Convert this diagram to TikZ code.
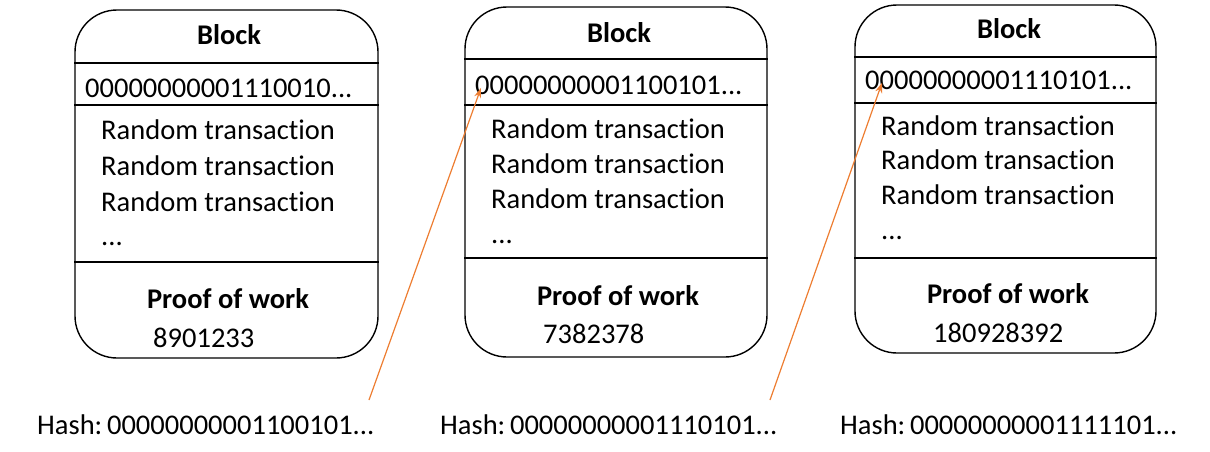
\documentclass[tikz,border=0pt]{standalone}
\usepackage{fontspec}
\setmainfont{Carlito}[RawFeature={-liga;-dlig}]
\usetikzlibrary{arrows.meta}

\definecolor{linkorange}{HTML}{ED7D31}

\tikzset{
  blk/.style={draw, line width=1.4pt, rounded corners=42pt, inner sep=0pt},
  sep/.style={line width=1.4pt},
  txt/.style={anchor=base west, inner sep=0pt, font=\fontsize{28.5}{34}\selectfont},
  hd/.style={anchor=base, inner sep=0pt, font=\fontsize{28.5}{34}\selectfont\bfseries},
  link/.style={draw=linkorange, line width=1.2pt, -{Stealth[length=10pt,width=7pt]}},
}

\begin{document}
\begin{tikzpicture}[x=1pt, y=-1pt]

    \useasboundingbox (0,0) rectangle (1210,452);

    % Define nodes
    \node[blk, minimum width=303pt, minimum height=348pt] (b1) at (226.5,184) {};
    \node[blk, minimum width=302pt, minimum height=350pt] (b2) at (616,182)   {};
    \node[blk, minimum width=301pt, minimum height=348pt] (b3) at (1005.5,179) {};

    \node[hd]  (head1) at (229,45)  {Block};
    \node[txt] (hash1) at (85,97)   {00000000001110010...};
    \node[txt] (tx1a)  at (101,139) {Random transaction};
    \node[txt] (tx1b)  at (101,175) {Random transaction};
    \node[txt] (tx1c)  at (101,211) {Random transaction};
    \node[txt] (tx1d)  at (101,245) {...};
    \node[hd]  (pow1)  at (228,308) {Proof of work};
    \node[txt] (nonce1) at (153,347) {8901233};

    \node[hd]  (head2) at (619,43)  {Block};
    \node[txt] (hash2) at (475,94)  {00000000001100101...};
    \node[txt] (tx2a)  at (491,138) {Random transaction};
    \node[txt] (tx2b)  at (491,173) {Random transaction};
    \node[txt] (tx2c)  at (491,208) {Random transaction};
    \node[txt] (tx2d)  at (491,243) {...};
    \node[hd]  (pow2)  at (618,305) {Proof of work};
    \node[txt] (nonce2) at (543,343) {7382378};

    \node[hd]  (head3) at (1009,39)  {Block};
    \node[txt] (hash3) at (865,89)   {00000000001110101...};
    \node[txt] (tx3a)  at (881,135)  {Random transaction};
    \node[txt] (tx3b)  at (881,169)  {Random transaction};
    \node[txt] (tx3c)  at (881,204)  {Random transaction};
    \node[txt] (tx3d)  at (881,239)  {...};
    \node[hd]  (pow3)  at (1008,303) {Proof of work};
    \node[txt] (nonce3) at (933,342) {180928392};

    \node[txt] (out1) at (37,434)  {Hash:\,00000000001100101...};
    \node[txt] (out2) at (440,434) {Hash:\,00000000001110101...};
    \node[txt] (out3) at (840,434) {Hash:\,00000000001111101...};

    \coordinate (from1) at (369,400);
    \coordinate (from2) at (770,400);

    % Separators
    \draw[sep] (b1.west |- 0,63)  -- (b1.east |- 0,63);
    \draw[sep] (b1.west |- 0,105) -- (b1.east |- 0,105);
    \draw[sep] (b1.west |- 0,262) -- (b1.east |- 0,262);

    \draw[sep] (b2.west |- 0,59)  -- (b2.east |- 0,59);
    \draw[sep] (b2.west |- 0,105) -- (b2.east |- 0,105);
    \draw[sep] (b2.west |- 0,258) -- (b2.east |- 0,258);

    \draw[sep] (b3.west |- 0,57)  -- (b3.east |- 0,57);
    \draw[sep] (b3.west |- 0,103) -- (b3.east |- 0,103);
    \draw[sep] (b3.west |- 0,258) -- (b3.east |- 0,258);

    % Connect the nodes
    \draw[link] (from1) -- ([xshift=6pt,yshift=-3pt]hash2.west);
    \draw[link] (from2) -- ([xshift=17pt,yshift=-3pt]hash3.west);

\end{tikzpicture}
\end{document}
